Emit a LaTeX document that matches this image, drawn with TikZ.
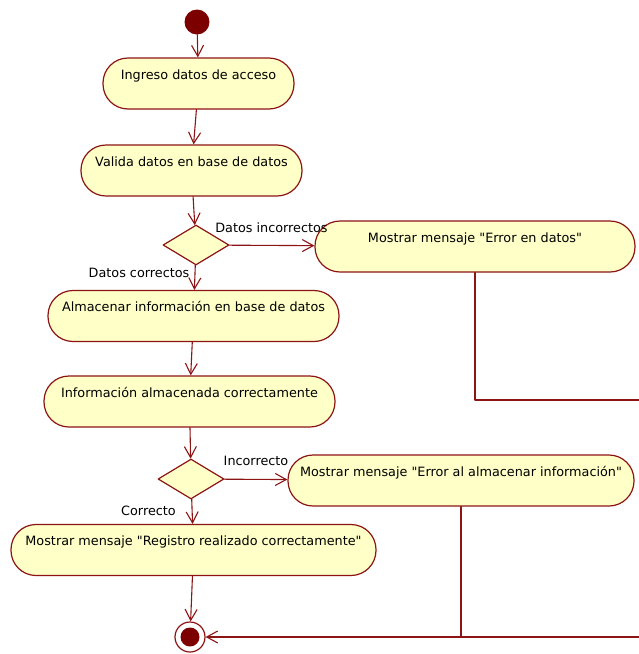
\documentclass[tikz,border=0pt]{standalone}
\usepackage{fontspec}
\setmainfont{DejaVu Sans}[Ligatures=TeXOff]
\usetikzlibrary{arrows.meta,shapes.geometric}

\definecolor{umlred}{RGB}{140,20,20}
\definecolor{umldark}{RGB}{125,0,0}
\definecolor{umlfill}{RGB}{255,255,200}

\begin{document}
\begin{tikzpicture}[
  x=1pt, y=-1pt,
  line cap=round,
  line join=round,
  every node/.style={font=\fontsize{12.8}{15}\selectfont},
  act/.style={draw=umlred, line width=1.2pt, fill=umlfill, rounded corners=25pt,
    inner xsep=0pt, inner ysep=0pt, text height=21pt, text depth=30pt,
    minimum width=#1},
  decision/.style={diamond, draw=umlred, line width=1.2pt, fill=umlfill,
    inner sep=0pt, minimum width=66pt, minimum height=40pt},
  arr/.style={draw=umlred, line width=1.1pt, -{Straight Barb[length=11pt,width=12pt]}},
  flow/.style={draw=umlred, line width=1.1pt}
]

\useasboundingbox (0,0) rectangle (639,654);

% start and end states
\node[circle, fill=umldark, inner sep=0pt, minimum size=25pt] (inicio) at (197,22) {};
\node[circle, draw=umlred, line width=1.2pt, fill=white, inner sep=0pt, minimum size=30pt,
  path picture={\fill[umldark] (path picture bounding box.center) circle (9.5pt);}] (fin) at (190,637) {};

% --- activities on the left ---
\node[act=191pt] (ingreso) at (198.5,83.5) {Ingreso datos de acceso};
\node[act=221pt] (valida) at (191.5,170.5) {Valida datos en base de datos};
\node[decision] (dec1) at (196,245) {};
\node[act=291pt] (almacenar) at (193.5,316) {Almacenar información en base de datos};
\node[act=291pt] (almacenada) at (189.5,401.5) {Información almacenada correctamente};
\node[decision] (dec2) at (191,479) {};
\node[act=365pt] (registro) at (193.5,550) {Mostrar mensaje "Registro realizado correctamente"};

% --- error activities on the right ---
\node[act=320pt] (errdatos) at (475,246.5) {Mostrar mensaje "Error en datos"};
\node[act=346pt] (erralm) at (461,480.5) {Mostrar mensaje "Error al almacenar información"};

% guards
\node (gincorr) at (271.5,228) {Datos incorrectos};
\node (gcorr) at (139,273) {Datos correctos};
\node (gincorr2) at (256,461) {Incorrecto};
\node (gcorr2) at (148.5,511) {Correcto};

% free ends at the right border
\coordinate (borde1) at (639,400);
\coordinate (borde2) at (639,637);

% --- transitions ---
\draw[arr] (inicio) -- (ingreso);
\draw[arr] (ingreso) -- (valida);
\draw[arr] (valida) -- (dec1);
\draw[arr] (dec1) -- (errdatos);
\draw[arr] (dec1) -- (almacenar);
\draw[arr] (almacenar) -- (almacenada);
\draw[arr] (almacenada) -- (dec2);
\draw[arr] (dec2) -- (erralm);
\draw[arr] (dec2) -- (registro);
\draw[arr] (registro) -- (fin);

\draw[flow] (errdatos.south) -- (errdatos.south |- borde1) -- (borde1);
\draw[flow] (erralm.south) -- (erralm.south |- borde2);
\draw[arr] (borde2) -- (fin);

\end{tikzpicture}
\end{document}
